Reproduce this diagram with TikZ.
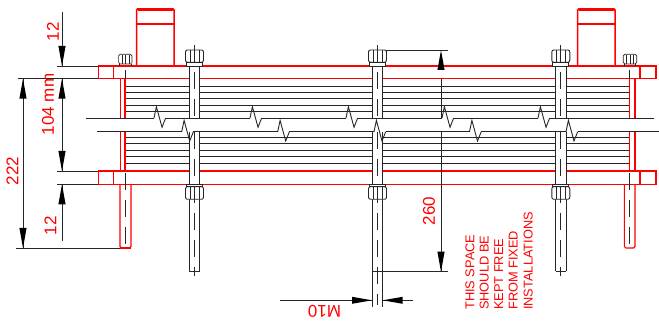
\documentclass[tikz,border=0pt]{standalone}
\usepackage{fontspec}
\setmainfont{Liberation Sans}
\definecolor{dimred}{RGB}{255,0,0}
\tikzset{
  redline/.style={draw=dimred,line width=1.1pt},
  thickred/.style={draw=dimred,line width=1.5pt},
  blk/.style={draw=black!85,line width=.9pt},
  centre/.style={draw=black!85,line width=.8pt,dash pattern=on 17pt off 10pt},
  dimline/.style={draw=black!85,line width=.8pt},
  dimtext/.style={text=dimred,font=\fontsize{17}{17}\selectfont,inner sep=0pt},
  note/.style={text=dimred,font=\fontsize{12.8}{12.8}\selectfont,inner sep=0pt,rotate=90,anchor=west},
}
\newcommand{\arrowdown}[2]{\fill[black] (#1,#2) -- (#1-3.6,#2-20) -- (#1+3.6,#2-20) -- cycle;}
\newcommand{\arrowup}[2]{\fill[black] (#1,#2) -- (#1-3.6,#2+20) -- (#1+3.6,#2+20) -- cycle;}
\newcommand{\zigline}[2]{%
  \foreach \zx in {#2} {\fill[white] (\zx,#1-.8) rectangle (\zx+11.7,#1+.8);
  \draw[blk,line join=miter] (\zx,#1) -- (\zx+2.4,#1-11.3) -- (\zx+8,#1+9.3) -- (\zx+11.7,#1);}}
\newcommand{\motor}[2]{%
  \draw[thickred,rounded corners=1pt] (#1,66) -- (#1,9) -- (#2,9) -- (#2,66);
  \draw[dimred,line width=2.4pt] (#1+1,9.5) -- (#2-1,9.5);
  \draw[redline] (#1,24) -- (#2,24);}
\newcommand{\smallbolt}[1]{%
  \draw[blk,line width=.7pt,fill=white,rounded corners=1.5pt] (#1-6.7,64) -- (#1-6.7,54.3) -- (#1+6.7,54.3) -- (#1+6.7,64) -- cycle;
  \draw[blk,line width=.7pt] (#1-5.7,64) -- (#1-5.7,66) (#1+5.7,64) -- (#1+5.7,66)
    (#1-3.4,55) -- (#1-3.4,64) (#1,55) -- (#1,64) (#1+3.6,55) -- (#1+3.6,64);}
\newcommand{\bolt}[3]{% x, shaft bottom, centre-line bottom
  \fill[white] (#1-5.3,66) rectangle (#1+5.3,118);
  \fill[white] (#1-5.3,131.7) rectangle (#1+5.3,#2);
  \draw[blk] (#1-5.3,66) -- (#1-5.3,118) (#1+5.3,66) -- (#1+5.3,118);
  \draw[blk] (#1-5.3,131.7) -- (#1-5.3,#2) (#1+5.3,131.7) -- (#1+5.3,#2);
  % upper nut
  \draw[blk,fill=white,rounded corners=2pt] (#1-9,62.3) -- (#1-9,50) -- (#1+9,50) -- (#1+9,62.3) -- cycle;
  \draw[blk,fill=white] (#1-8,62.3) rectangle (#1+8,66);
  \draw[blk,line width=.7pt] (#1-4.6,50.5) -- (#1-4.6,62.3) (#1+4.6,50.5) -- (#1+4.6,62.3);
  \draw[centre] (#1,45) -- (#1,118);
  % lower nut
  \draw[blk,fill=white] (#1-8,184.3) rectangle (#1+8,186.7);
  \draw[blk,fill=white,rounded corners=2pt] (#1-9,186.7) -- (#1-9,199.3) -- (#1+9,199.3) -- (#1+9,186.7) -- cycle;
  \draw[blk,line width=.7pt] (#1-4.6,186.7) -- (#1-4.6,199) (#1+4.6,186.7) -- (#1+4.6,199);
  \draw[centre] (#1,131.7) -- (#1,#3);}
\begin{document}
\begin{tikzpicture}[x=1pt,y=-1pt]
\useasboundingbox (0,0) rectangle (659,323);
% tube lines
\foreach \ty in {86,92.3,98.7,105,111.4} {\draw[blk] (125,\ty) -- (629,\ty);}
\foreach \ty in {137.2,143.7,150,156.3,163.3} {\draw[blk] (125,\ty) -- (629,\ty);}
% end walls
\draw[redline] (120.3,78.7) -- (120.3,118) (125,78.7) -- (125,118);
\draw[redline] (120.3,131.7) -- (120.3,171) (125,131.7) -- (125,171);
\draw[redline] (629.5,78.7) -- (629.5,118) (635,78.7) -- (635,118);
\draw[redline] (629.5,131.7) -- (629.5,171) (635,131.7) -- (635,171);
% flanges
\draw[redline] (98.5,66) rectangle (656,78.7);
\draw[redline] (98.5,171) rectangle (656,184.3);
\draw[redline] (113.5,66) -- (113.5,78.7) (113.5,171) -- (113.5,184.3);
\draw[redline] (640,66) -- (640,78.7) (640,171) -- (640,184.3);
% feet
\draw[redline,rounded corners=1.5pt] (120,184.3) -- (120,248) -- (131,248) -- (131,184.3);
\draw[redline,rounded corners=1.5pt] (624.3,184.3) -- (624.3,248) -- (635,248) -- (635,184.3);
\draw[blk] (125.3,70) -- (125.3,79);
\draw[blk] (629.5,70) -- (629.5,79);
\draw[centre] (125.5,173) -- (125.5,251);
\draw[centre] (629.5,173) -- (629.5,251);
% motors and small bolts
\motor{136.5}{174}
\motor{577.7}{615}
\smallbolt{125.3}
\smallbolt{630}
% through bolts
\bolt{194.5}{271.5}{276}
\bolt{377.5}{306.7}{305}
\bolt{560.8}{271.5}{276}
\draw[blk,line width=.7pt] (189.2,271.5) -- (199.8,271.5) (555.5,271.5) -- (566.1,271.5);
% broken lines
\draw[blk] (86,118) -- (654,118);
\draw[blk] (97,131.7) -- (659,131.7);
\zigline{118}{154,250,346,442,538}
\zigline{131.7}{181.7,277.7,374,469.5,566}
% dimension 12 / 104 mm / 12
\draw[dimline] (57,66) -- (98,66);
\draw[dimline] (17.5,78.7) -- (98,78.7);
\draw[dimline] (57,171) -- (98,171);
\draw[dimline] (57,184.3) -- (98,184.3);
\draw[dimline] (16,248) -- (120,248);
\draw[redline] (120,248) -- (131,248);
\draw[dimline] (62,12) -- (62,66);
\draw[dimline] (62,79) -- (62,171);
\draw[dimline] (62,184.3) -- (62,241);
\arrowdown{62}{66}
\arrowup{62}{78.7}
\arrowdown{62}{171}
\arrowup{62}{184.3}
% dimension 222
\draw[dimline] (23,78.7) -- (23,248);
\arrowup{23}{78.7}
\arrowdown{23}{248}
% dimension 260
\draw[dimline] (385.5,50.3) -- (448,50.3);
\draw[dimline] (372,271.7) -- (448,271.7);
\draw[dimline] (441,79) -- (441,118) (441,131.7) -- (441,271.7);
\fill[black] (441,50.3) -- (437.4,70) -- (444.6,70) -- cycle;
\arrowdown{441}{271.7}
% dimension M10
\draw[dimline] (279.5,300.3) -- (372,300.3);
\draw[dimline] (382.7,300.3) -- (413.3,300.3);
\fill[black] (372,300.3) -- (352,296.8) -- (352,303.8) -- cycle;
\fill[black] (382.7,300.3) -- (402.7,296.8) -- (402.7,303.8) -- cycle;
% labels
\node[dimtext,rotate=90] (d12a) at (53,32) {12};
\node[dimtext,rotate=90] (d104) at (48,104.5) {104 mm};
\node[dimtext,rotate=90] (d222) at (12.5,171) {222};
\node[dimtext,rotate=90] (d12b) at (50.5,225.6) {12};
\node[dimtext,rotate=90] (d260) at (429,211) {260};
\node[dimtext,rotate=180] (dm10) at (324.5,311.5) {M10};
\node[note] (n1) at (470,310) {THIS SPACE};
\node[note] (n2) at (484.3,310) {SHOULD BE};
\node[note] (n3) at (498.7,310) {KEPT FREE};
\node[note] (n4) at (513.3,310) {FROM FIXED};
\node[note] (n5) at (528.3,310) {INSTALLATIONS};
\end{tikzpicture}
\end{document}
